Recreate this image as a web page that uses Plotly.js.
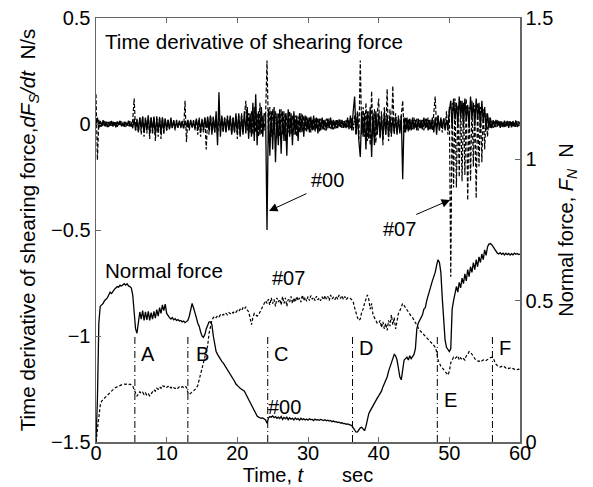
<!DOCTYPE html>
<html>
<head>
<meta charset="utf-8">
<script src="https://cdn.plot.ly/plotly-3.0.1.min.js"></script>
<style>html,body{margin:0;padding:0;background:#fff;}#chart{width:593px;height:487px;}</style>
</head>
<body>
<div id="chart"></div>
<script>
// Sampling of the recorded signals (seconds)
const sampleStart = 0;
const sampleStep = 0.2;

// Time derivative of shearing force, specimen #00 (N/s), solid
const dFsdt00 = [
  0.0, 0.03, -0.02, 0.015, -0.012, 0.018, -0.01, 0.012, -0.015, 0.01,
  -0.008, 0.014, -0.012, 0.009, -0.016, 0.012, -0.006, 0.015, -0.011, 0.007,
  -0.013, 0.01, -0.009, 0.016, -0.012, 0.008, -0.02, 0.025, -0.03, 0.02,
  -0.035, 0.03, -0.025, 0.035, -0.04, 0.028, -0.03, 0.04, -0.045, 0.03,
  -0.03, 0.035, -0.05, 0.025, -0.035, 0.03, -0.04, 0.032, -0.028, 0.026,
  -0.03, 0.02, -0.025, 0.03, -0.02, 0.018, -0.022, 0.015, -0.018, 0.016,
  -0.015, 0.012, -0.02, 0.014, -0.012, 0.016, -0.018, 0.02, -0.015, 0.013,
  -0.02, 0.025, -0.018, 0.022, -0.03, 0.02, -0.025, 0.03, -0.02, 0.035,
  -0.03, 0.04, -0.05, 0.03, -0.04, 0.06, -0.1, 0.15, -0.06, 0.04,
  -0.035, 0.03, -0.04, 0.035, -0.03, 0.04, -0.05, 0.03, -0.04, 0.05,
  -0.04, 0.05, -0.06, 0.04, -0.05, 0.06, -0.045, 0.08, -0.07, 0.05,
  -0.06, 0.1, -0.08, 0.14, -0.1, 0.06, -0.05, 0.08, -0.06, 0.05,
  0.04, -0.5, 0.07, -0.15, 0.06, -0.12, 0.08, -0.18, 0.05, -0.1,
  0.07, -0.14, 0.06, -0.08, 0.05, -0.15, 0.07, -0.06, 0.05, -0.1,
  0.06, -0.05, 0.04, -0.08, 0.05, -0.04, 0.045, -0.06, 0.04, -0.035,
  0.03, -0.04, 0.035, -0.03, 0.04, -0.035, 0.03, -0.045, 0.025, -0.03,
  0.03, -0.025, 0.02, -0.03, 0.025, -0.02, 0.03, -0.025, 0.02, -0.022,
  0.018, -0.02, 0.022, -0.015, 0.02, -0.018, 0.015, -0.02, 0.03, -0.025,
  0.04, -0.03, 0.06, 0.13, -0.05, 0.05, -0.08, -0.155, 0.06, -0.06,
  0.05, -0.12, 0.06, -0.07, 0.08, -0.155, 0.05, -0.1, 0.06, -0.05,
  0.05, -0.06, 0.04, -0.07, 0.05, -0.05, 0.04, -0.06, 0.035, -0.05,
  0.03, -0.04, 0.035, -0.05, 0.03, -0.045, 0.04, -0.26, 0.03, -0.04,
  0.03, -0.035, 0.025, -0.03, 0.03, -0.025, 0.02, -0.03, 0.025, -0.02,
  0.02, -0.025, 0.03, -0.02, 0.025, -0.03, 0.02, -0.025, 0.03, -0.04,
  0.03, -0.05, 0.04, -0.03, 0.03, -0.02, 0.025, -0.03, 0.02, -0.02,
  0.06, 0.11, -0.02, 0.12, 0.02, 0.1, -0.01, 0.13, 0.03, 0.11,
  -0.01, 0.12, 0.02, 0.09, -0.02, 0.13, 0.03, 0.1, -0.01, 0.12,
  0.02, 0.1, -0.02, 0.11, 0.01, 0.08, -0.03, 0.05, -0.02, 0.03,
  -0.02, 0.018, -0.015, 0.02, -0.012, 0.015, -0.018, 0.012, -0.015, 0.016,
  -0.012, 0.015, -0.018, 0.013, -0.016, 0.014, -0.012, 0.017, -0.014, 0.012,
  0.0
];

// Time derivative of shearing force, specimen #07 (N/s), dashed
const dFsdt07 = [
  0.14, -0.17, 0.02, -0.015, 0.012, -0.01, 0.015, -0.012, 0.01, -0.014,
  0.012, -0.009, 0.014, -0.011, 0.008, -0.013, 0.01, -0.008, 0.012, -0.01,
  0.011, -0.014, 0.009, -0.01, 0.013, -0.012, 0.02, 0.12, -0.03, 0.025,
  -0.04, 0.03, -0.05, 0.035, -0.06, 0.03, -0.045, 0.04, -0.07, 0.035,
  -0.05, 0.03, -0.08, 0.04, -0.06, 0.035, -0.07, 0.03, -0.05, 0.025,
  -0.03, 0.02, -0.025, 0.018, -0.02, 0.015, -0.03, 0.02, -0.018, 0.015,
  -0.02, 0.015, -0.025, 0.11, -0.085, 0.02, -0.03, 0.015, -0.02, 0.018,
  -0.03, 0.02, -0.05, 0.03, -0.06, 0.025, -0.04, 0.03, -0.12, 0.03,
  -0.05, 0.04, -0.03, 0.035, -0.04, 0.03, -0.05, 0.04, -0.03, 0.03,
  -0.04, 0.03, -0.035, 0.04, -0.03, 0.035, -0.045, 0.03, -0.04, 0.035,
  -0.07, 0.04, -0.05, 0.05, -0.04, 0.06, 0.11, -0.03, 0.05, -0.04,
  0.06, -0.05, 0.08, -0.04, 0.05, -0.06, 0.1, -0.05, 0.04, -0.03,
  0.04, 0.3, -0.04, 0.08, -0.06, 0.07, -0.05, 0.06, -0.07, 0.05,
  -0.06, 0.07, -0.05, 0.06, -0.08, 0.05, -0.04, 0.06, -0.05, 0.04,
  -0.05, 0.04, -0.06, 0.035, -0.04, 0.05, -0.035, 0.04, -0.03, 0.035,
  -0.03, 0.03, -0.04, 0.025, -0.03, 0.03, -0.025, 0.03, -0.035, 0.025,
  -0.025, 0.02, -0.03, 0.025, -0.02, 0.025, -0.022, 0.02, -0.025, 0.018,
  -0.02, 0.018, -0.015, 0.02, -0.018, 0.015, -0.02, 0.018, -0.015, 0.02,
  -0.02, 0.03, -0.03, 0.04, -0.05, 0.06, -0.07, 0.3, -0.05, 0.08,
  -0.06, 0.1, -0.08, 0.06, -0.1, 0.155, -0.06, 0.07, -0.09, 0.05,
  0.12, -0.07, 0.06, -0.1, 0.08, -0.05, 0.165, -0.08, 0.07, -0.06,
  0.18, -0.05, 0.05, -0.04, 0.04, -0.03, 0.05, 0.11, -0.04, 0.03,
  -0.03, 0.025, -0.03, 0.02, -0.025, 0.03, -0.02, 0.025, -0.03, 0.02,
  -0.025, 0.02, -0.03, 0.025, -0.02, 0.03, -0.025, 0.02, -0.03, 0.06,
  0.13, -0.02, 0.04, -0.03, 0.02, -0.04, 0.03, -0.02, 0.06, -0.05,
  0.08, -0.72, 0.1, -0.3, 0.12, -0.3, 0.09, -0.25, 0.11, -0.27,
  0.1, -0.24, 0.12, -0.36, 0.08, -0.27, 0.11, -0.2, 0.09, -0.35,
  0.1, -0.2, 0.08, -0.18, 0.07, -0.12, 0.05, -0.06, 0.03, -0.02,
  0.015, -0.018, 0.012, -0.015, 0.02, -0.012, 0.016, -0.014, 0.011, -0.017,
  0.013, -0.012, 0.016, -0.011, 0.014, -0.015, 0.01, -0.013, 0.012, -0.01,
  0.0
];

// Normal force, specimen #00 (N), solid
const normal00 = [
  0.0, 0.15, 0.42, 0.48, 0.485, 0.49, 0.5, 0.505, 0.51, 0.52,
  0.53, 0.525, 0.535, 0.54, 0.545, 0.55, 0.548, 0.555, 0.552, 0.558,
  0.56, 0.555, 0.56, 0.552, 0.55, 0.545, 0.52, 0.46, 0.40, 0.385,
  0.43, 0.46, 0.435, 0.465, 0.43, 0.46, 0.432, 0.462, 0.43, 0.458,
  0.435, 0.462, 0.438, 0.468, 0.445, 0.475, 0.455, 0.485, 0.465, 0.488,
  0.455, 0.445, 0.44, 0.435, 0.44, 0.432, 0.436, 0.43, 0.433, 0.428,
  0.43, 0.425, 0.428, 0.422, 0.425, 0.43, 0.445, 0.47, 0.49, 0.475,
  0.46, 0.44, 0.42, 0.41, 0.39, 0.375, 0.37, 0.38, 0.4, 0.415,
  0.425, 0.425, 0.415, 0.375, 0.345, 0.32, 0.31, 0.3, 0.29, 0.285,
  0.28, 0.272, 0.265, 0.258, 0.25, 0.243, 0.235, 0.225, 0.215, 0.205,
  0.198, 0.195, 0.19, 0.187, 0.183, 0.18, 0.17, 0.16, 0.15, 0.14,
  0.128, 0.118, 0.11, 0.1, 0.092, 0.088, 0.086, 0.084, 0.085, 0.08,
  0.078, 0.066, 0.085, 0.09, 0.088, 0.092, 0.086, 0.09, 0.084, 0.088,
  0.083, 0.09, 0.08, 0.087, 0.082, 0.088, 0.079, 0.086, 0.081, 0.084,
  0.078, 0.085, 0.08, 0.083, 0.077, 0.084, 0.079, 0.082, 0.078, 0.081,
  0.077, 0.082, 0.079, 0.08, 0.076, 0.081, 0.078, 0.079, 0.077, 0.08,
  0.078, 0.076, 0.079, 0.075, 0.077, 0.074, 0.076, 0.072, 0.074, 0.071,
  0.072, 0.069, 0.07, 0.067, 0.068, 0.065, 0.066, 0.063, 0.064, 0.061,
  0.06, 0.058, 0.05, 0.04, 0.035, 0.036, 0.045, 0.05, 0.052, 0.045,
  0.04, 0.055, 0.085, 0.1, 0.11, 0.12, 0.13, 0.14, 0.145, 0.155,
  0.163, 0.17, 0.18, 0.195, 0.205, 0.215, 0.23, 0.25, 0.265, 0.28,
  0.295, 0.31, 0.305, 0.29, 0.26, 0.23, 0.22, 0.26, 0.29, 0.295,
  0.3, 0.29, 0.305, 0.295, 0.302, 0.31, 0.33, 0.4, 0.42, 0.43,
  0.44, 0.45, 0.47, 0.475, 0.5, 0.52, 0.54, 0.555, 0.57, 0.585,
  0.6, 0.625, 0.645, 0.635, 0.6, 0.51, 0.42, 0.36, 0.335, 0.325,
  0.32, 0.33, 0.47, 0.5, 0.53, 0.55, 0.53, 0.565, 0.545, 0.58,
  0.56, 0.595, 0.57, 0.61, 0.585, 0.62, 0.6, 0.635, 0.61, 0.645,
  0.62, 0.655, 0.635, 0.665, 0.645, 0.68, 0.66, 0.69, 0.7, 0.702,
  0.698, 0.69, 0.68, 0.672, 0.668, 0.665, 0.67, 0.664, 0.668, 0.662,
  0.668, 0.663, 0.667, 0.661, 0.666, 0.662, 0.668, 0.664, 0.667, 0.663,
  0.665
];

// Normal force, specimen #07 (N), dashed
const normal07 = [
  0.0, 0.04, 0.09, 0.13, 0.145, 0.15, 0.155, 0.16, 0.165, 0.17,
  0.178, 0.182, 0.186, 0.19, 0.193, 0.196, 0.198, 0.2, 0.202, 0.203,
  0.205, 0.204, 0.206, 0.203, 0.205, 0.202, 0.198, 0.185, 0.17, 0.162,
  0.17, 0.178, 0.172, 0.176, 0.168, 0.174, 0.165, 0.17, 0.163, 0.172,
  0.178, 0.185, 0.18, 0.19, 0.186, 0.195, 0.19, 0.2, 0.196, 0.198,
  0.193, 0.197, 0.19, 0.194, 0.188, 0.192, 0.189, 0.194, 0.19, 0.195,
  0.192, 0.196, 0.193, 0.197, 0.194, 0.175, 0.168, 0.172, 0.175, 0.18,
  0.185, 0.19, 0.2, 0.22, 0.235, 0.25, 0.27, 0.29, 0.31, 0.34,
  0.385, 0.41, 0.43, 0.44, 0.445, 0.44, 0.447, 0.443, 0.45, 0.446,
  0.452, 0.448, 0.455, 0.45, 0.458, 0.454, 0.46, 0.456, 0.463, 0.459,
  0.466, 0.462, 0.47, 0.465, 0.475, 0.47, 0.478, 0.468, 0.46, 0.44,
  0.415, 0.44, 0.455, 0.45, 0.445, 0.45, 0.46, 0.47, 0.485, 0.495,
  0.5, 0.49, 0.505, 0.485, 0.51, 0.49, 0.505, 0.48, 0.51, 0.495,
  0.505, 0.485, 0.515, 0.49, 0.51, 0.48, 0.505, 0.495, 0.515, 0.49,
  0.51, 0.495, 0.515, 0.5, 0.51, 0.495, 0.52, 0.5, 0.512, 0.498,
  0.515, 0.5, 0.518, 0.505, 0.512, 0.5, 0.516, 0.503, 0.51, 0.5,
  0.514, 0.503, 0.518, 0.505, 0.515, 0.5, 0.52, 0.506, 0.512, 0.503,
  0.516, 0.505, 0.52, 0.508, 0.518, 0.505, 0.515, 0.503, 0.51, 0.506,
  0.508, 0.503, 0.495, 0.475, 0.455, 0.44, 0.43, 0.435, 0.46, 0.47,
  0.49, 0.51, 0.52, 0.505, 0.47, 0.49, 0.45, 0.44, 0.43, 0.42,
  0.42, 0.43, 0.405, 0.425, 0.4, 0.42, 0.395, 0.43, 0.41, 0.45,
  0.415, 0.44, 0.4, 0.43, 0.455, 0.465, 0.48, 0.49, 0.483, 0.475,
  0.468, 0.46, 0.455, 0.445, 0.44, 0.43, 0.42, 0.415, 0.405, 0.395,
  0.39, 0.385, 0.38, 0.375, 0.37, 0.365, 0.36, 0.355, 0.348, 0.342,
  0.335, 0.32, 0.29, 0.275, 0.268, 0.262, 0.255, 0.25, 0.243, 0.237,
  0.25, 0.28, 0.29, 0.3, 0.295, 0.3, 0.305, 0.29, 0.298, 0.29,
  0.295, 0.29, 0.305, 0.31, 0.32, 0.318, 0.31, 0.3, 0.295, 0.29,
  0.288, 0.285, 0.29, 0.287, 0.29, 0.292, 0.288, 0.293, 0.295, 0.298,
  0.3, 0.297, 0.285, 0.275, 0.27, 0.268, 0.265, 0.268, 0.264, 0.266,
  0.262, 0.264, 0.26, 0.262, 0.258, 0.26, 0.257, 0.259, 0.256, 0.258,
  0.255
];

// Phase boundaries (s) and their labels
const phaseTimes  = [5.5, 13.0, 24.3, 36.3, 48.3, 56.1];
const phaseLabels = ['A', 'B', 'C', 'D', 'E', 'F'];
const phaseLabelT = [7.4, 15.1, 26.2, 38.2, 50.2, 57.9];
const phaseLabelY = [-1.085, -1.085, -1.085, -1.056, -1.30, -1.056];

const FONT = 'Arial, "Liberation Sans", sans-serif';
const NB = '\u00A0';

const traces = [
  {x0: sampleStart, dx: sampleStep, y: dFsdt00, type: 'scatter', mode: 'lines',
   line: {color: '#000', width: 1.3}, yaxis: 'y', name: '#00 dFs/dt'},
  {x0: sampleStart, dx: sampleStep, y: dFsdt07, type: 'scatter', mode: 'lines',
   line: {color: '#000', width: 1.2, dash: '4px,2px'}, yaxis: 'y', name: '#07 dFs/dt'},
  {x0: sampleStart, dx: sampleStep, y: normal00, type: 'scatter', mode: 'lines',
   line: {color: '#000', width: 1.3}, yaxis: 'y2', name: '#00 FN'},
  {x0: sampleStart, dx: sampleStep, y: normal07, type: 'scatter', mode: 'lines',
   line: {color: '#000', width: 1.2, dash: '3px,2px'}, yaxis: 'y2', name: '#07 FN'}
];

const shapes = phaseTimes.map(t => ({
  type: 'line', xref: 'x', yref: 'y', x0: t, x1: t, y0: -1.5, y1: -1.0,
  line: {color: '#000', width: 1, dash: '7px,3px,1px,3px'}
}));

const txt = (text, x, y, extra) => Object.assign({
  text: text, x: x, y: y, xref: 'x', yref: 'y', showarrow: false,
  font: {family: FONT, size: 20, color: '#000'}
}, extra || {});

const bigFont = {family: FONT, size: 20.6, color: '#000'};

const annotations = [
  txt('Time derivative of shearing force', 1.0, 0.39, {xanchor: 'left', font: bigFont}),
  txt('Normal force', 1.0, -0.693, {xanchor: 'left', font: bigFont}),
  txt('#07', 27.2, -0.726),
  txt('#00', 26.7, -1.335),
  txt('#00', 32.7, -0.264),
  txt('#07', 43.0, -0.495),
  {text: '', x: 24.48, y: -0.41, ax: 30.0, ay: -0.325, axref: 'x', ayref: 'y',
   xref: 'x', yref: 'y', showarrow: true, arrowhead: 2, arrowsize: 1.7, arrowwidth: 1, arrowcolor: '#000'},
  {text: '', x: 50.1, y: -0.358, ax: 45.1, ay: -0.43, axref: 'x', ayref: 'y',
   xref: 'x', yref: 'y', showarrow: true, arrowhead: 2, arrowsize: 1.7, arrowwidth: 1, arrowcolor: '#000'}
].concat(phaseLabels.map((s, i) => txt(s, phaseLabelT[i], phaseLabelY[i])));

const axisCommon = {
  showgrid: false, zeroline: false, showline: true, linecolor: '#666', linewidth: 1.5,
  ticks: 'inside', ticklen: 5, tickcolor: '#666', tickwidth: 1,
  tickfont: {family: FONT, size: 20, color: '#000'}
};

const layout = {
  width: 593, height: 487,
  margin: {l: 96, r: 73, t: 18, b: 45, pad: 0},
  paper_bgcolor: '#fff', plot_bgcolor: '#fff',
  showlegend: false,
  font: {family: FONT, size: 20, color: '#000'},
  xaxis: Object.assign({}, axisCommon, {
    range: [0, 60], dtick: 10, tick0: 0, mirror: 'ticks', ticklabelstandoff: -8,
    title: {text: NB + NB + NB + 'Time, <i>t</i>' + NB.repeat(7) + 'sec',
            font: {family: FONT, size: 20, color: '#000'}, standoff: 0}
  }),
  yaxis: Object.assign({}, axisCommon, {
    range: [-1.5, 0.5], dtick: 0.5, tick0: 0,
    title: {text: 'Time derivative of shearing force,<i>dF<sub>S</sub>/dt</i>' + NB + NB + 'N/s' + NB,
            font: {family: FONT, size: 20.6, color: '#000'}, standoff: 10}
  }),
  yaxis2: Object.assign({}, axisCommon, {
    range: [0, 1.5], dtick: 0.5, tick0: 0, overlaying: 'y', side: 'right',
    title: {text: 'Normal force, <i>F<sub>N</sub></i>' + NB + NB + 'N' + NB + NB + NB,
            font: {family: FONT, size: 20, color: '#000'}, standoff: 6}
  }),
  shapes: shapes,
  annotations: annotations
};

Plotly.newPlot('chart', traces, layout, {displayModeBar: false, staticPlot: true});
</script>
</body>
</html>
